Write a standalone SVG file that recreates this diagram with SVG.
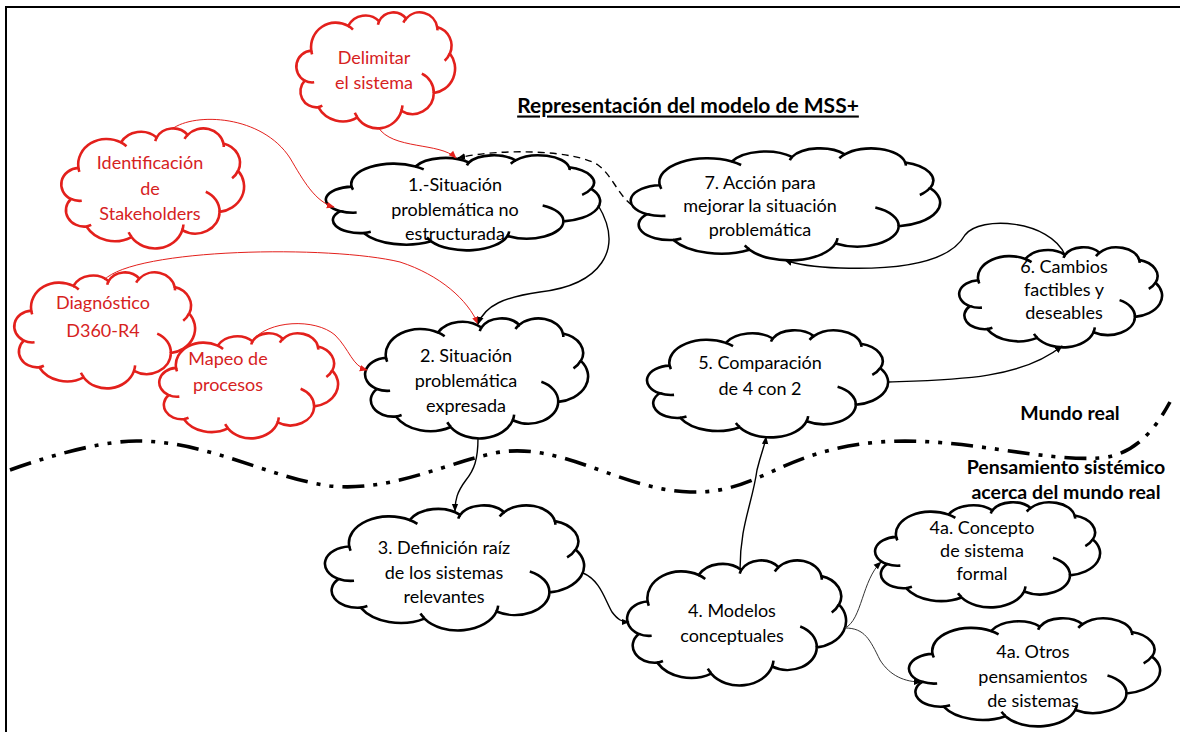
<svg xmlns="http://www.w3.org/2000/svg" width="1180" height="732" viewBox="0 0 1180 732">
<style>
.bg{fill:#fff}
.frame{fill:none;stroke:#000;stroke-width:2}
.cb{fill:#fff;stroke:#000;stroke-width:2.6}
.cr{fill:#fff;stroke:#e3201c;stroke-width:2.6}
text{font-family:Lato,"Open Sans","Liberation Sans",sans-serif;font-size:18px;text-anchor:middle;dominant-baseline:central}
.tb{fill:#000}
.tr{fill:#d6221e}
.bold{font-weight:bold;fill:#000;font-size:19.5px}
.ck{fill:none;stroke:#000;stroke-width:1.4}
.cred{fill:none;stroke:#e3201c;stroke-width:1}
.cthin{fill:none;stroke:#333;stroke-width:1}
.dash{stroke-dasharray:7 5}
.wave{fill:none;stroke:#000;stroke-width:3.6;stroke-dasharray:22 9 4 9 4 9}
</style>
<defs>
<g id="cloud">
<path vector-effect="non-scaling-stroke" d="M9.03,33.26 A15.63,21.27 0 0 1 32.42,12.04 A12.34,16.82 0 0 1 51.98,7.94 A10.10,13.76 0 0 1 69.06,5.73 A11.24,15.27 0 0 1 88.70,12.89 A12.34,16.84 0 0 1 96.80,35.77 A15.68,21.34 0 0 1 86.59,69.90 A13.39,18.21 0 0 1 66.10,85.20 A15.63,21.33 0 0 1 38.15,90.88 A17.87,24.41 0 0 1 13.44,82.09 A10.09,13.70 0 0 1 4.89,59.12 A10.06,13.76 0 0 1 9.03,33.26 Z"/>
<path vector-effect="non-scaling-stroke" style="fill:none" d="M10.86,60.60 A10.06,13.76 0 0 1 4.89,59.12 M16.04,80.78 A10.09,13.70 0 0 1 13.44,82.09 M38.14,90.49 A15.63,21.33 0 0 1 36.60,86.85 M66.73,80.44 A15.63,21.33 0 0 1 66.10,85.20 M79.00,53.13 A13.39,18.21 0 0 1 86.59,69.90 M96.75,35.54 A12.34,16.84 0 0 1 93.45,41.96 M88.71,12.56 A11.24,15.27 0 0 1 88.88,15.82 M67.31,9.15 A11.24,15.27 0 0 1 69.06,5.73 M51.25,10.93 A10.10,13.76 0 0 1 51.98,7.94 M32.41,12.02 A15.63,21.27 0 0 1 35.43,15.16 M9.55,36.55 A15.63,21.27 0 0 1 9.03,33.26"/>
</g>
<marker id="ak" viewBox="0 0 10 10" refX="9" refY="5" markerWidth="8" markerHeight="8" markerUnits="userSpaceOnUse" orient="auto"><path d="M0,1 L10,5 L0,9 z" fill="#000"/></marker>
<marker id="ar" viewBox="0 0 10 10" refX="9" refY="5" markerWidth="8" markerHeight="8" markerUnits="userSpaceOnUse" orient="auto"><path d="M0,1 L10,5 L0,9 z" fill="#e3201c"/></marker>
</defs>
<rect class="bg" width="1180" height="732"/>
<path class="frame" d="M6,732 L6,7 L1180,7"/>
<text class="bold" x="688" y="104" style="font-size:21px;text-decoration:underline">Representación del modelo de MSS+</text>
<path class="wave" d="M10,470 C60,452 110,440 140,441 C210,442 270,478 330,486 C390,492 440,465 495,453 C560,440 620,490 690,492 C760,494 780,450 880,442 C960,436 1040,462 1100,458 C1140,455 1160,420 1170,402"/>
<text class="bold" x="1070" y="412">Mundo real</text>
<text class="bold" x="1066" y="466">Pensamiento sistémico</text>
<text class="bold" x="1066" y="491">acerca del mundo real</text>
<g id="delimitar"><use href="#cloud" class="cr" transform="translate(297,12) scale(1.58,1.16)"/><text class="tr" x="374" y="57">Delimitar</text><text class="tr" x="374" y="82">el sistema</text></g>
<g id="stakeholders"><use href="#cloud" class="cr" transform="translate(62,128) scale(1.82,1.2)"/><text class="tr" x="150" y="162">Identificación</text><text class="tr" x="150" y="188">de</text><text class="tr" x="150" y="213">Stakeholders</text></g>
<g id="diagnostico"><use href="#cloud" class="cr" transform="translate(15,272) scale(1.8,1.16)"/><text class="tr" x="103" y="302">Diagnóstico</text><text class="tr" x="103" y="330">D360-R4</text></g>
<g id="mapeo"><use href="#cloud" class="cr" transform="translate(160,333) scale(1.78,1.05)"/><text class="tr" x="228" y="358">Mapeo de</text><text class="tr" x="228" y="384">procesos</text></g>
<g id="n1"><use href="#cloud" class="cb" transform="translate(327,155) scale(2.73,0.95)"/><text class="tb" x="455" y="184">1.-Situación</text><text class="tb" x="455" y="209">problemática no</text><text class="tb" x="455" y="233">estructurada</text></g>
<g id="n2"><use href="#cloud" class="cb" transform="translate(366,318) scale(2.22,1.2)"/><text class="tb" x="466" y="355">2. Situación</text><text class="tb" x="466" y="380">problemática</text><text class="tb" x="466" y="405">expresada</text></g>
<g id="n3"><use href="#cloud" class="cb" transform="translate(326,505) scale(2.58,1.25)"/><text class="tb" x="444" y="547">3. Definición raíz</text><text class="tb" x="444" y="572">de los sistemas</text><text class="tb" x="444" y="596">relevantes</text></g>
<g id="n4"><use href="#cloud" class="cb" transform="translate(628,560) scale(2.18,1.25)"/><text class="tb" x="732" y="610">4. Modelos</text><text class="tb" x="732" y="635">conceptuales</text></g>
<g id="n5"><use href="#cloud" class="cb" transform="translate(648,330) scale(2.4,1.07)"/><text class="tb" x="760" y="362">5. Comparación</text><text class="tb" x="760" y="388">de 4 con 2</text></g>
<g id="n6"><use href="#cloud" class="cb" transform="translate(960,247) scale(2.02,1.0)"/><text class="tb" x="1064" y="266">6. Cambios</text><text class="tb" x="1064" y="289">factibles y</text><text class="tb" x="1064" y="312">deseables</text></g>
<g id="n7"><use href="#cloud" class="cb" transform="translate(632,148) scale(3.08,1.12)"/><text class="tb" x="760" y="182">7. Acción para</text><text class="tb" x="760" y="205">mejorar la situación</text><text class="tb" x="760" y="229">problemática</text></g>
<g id="n4a1"><use href="#cloud" class="cb" transform="translate(876,502) scale(2.24,1.05)"/><text class="tb" x="982" y="527">4a. Concepto</text><text class="tb" x="982" y="550">de sistema</text><text class="tb" x="982" y="573">formal</text></g>
<g id="n4a2"><use href="#cloud" class="cb" transform="translate(910,618) scale(2.5,1.08)"/><text class="tb" x="1033" y="651">4a. Otros</text><text class="tb" x="1033" y="676">pensamientos</text><text class="tb" x="1033" y="700">de sistemas</text></g>
<g id="connectors">
<path class="cred" marker-end="url(#ar)" d="M378,127 C392,150 440,142 456,158"/>
<path class="cred" marker-end="url(#ar)" d="M172,129 C195,112 262,115 290,158 C303,180 315,202 334,207"/>
<path class="cred" marker-end="url(#ar)" d="M104,280 C135,248 330,245 400,262 C440,275 468,300 478,324"/>
<path class="cred" marker-end="url(#ar)" d="M252,341 C268,320 315,318 335,335 C350,350 352,366 367,370"/>
<path class="ck" marker-end="url(#ak)" d="M598,205 C625,250 600,285 540,292 C505,297 485,305 478,324"/>
<path class="ck" marker-end="url(#ak)" d="M478,438 C478,460 474,470 466,480 C457,492 455,500 455,511"/>
<path class="ck" marker-end="url(#ak)" d="M583,573 C600,580 605,600 612,612 C618,620 622,622 629,622"/>
<path class="ck" marker-end="url(#ak)" d="M740,570 C740,525 752,505 757,470 C762,450 765,445 766,437"/>
<path class="ck" marker-end="url(#ak)" d="M888,382 C950,380 1020,380 1062,346"/>
<path class="ck" marker-end="url(#ak)" d="M1065,255 C1050,220 980,215 965,235 C950,262 900,270 840,268 C810,267 795,264 785,260"/>
<path class="ck dash" marker-end="url(#ak)" d="M632,205 C618,195 612,175 598,165 C575,150 500,148 458,158"/>
<path class="cthin" marker-end="url(#ak)" d="M845,628 C862,620 862,580 881,562"/>
<path class="cthin" marker-end="url(#ak)" d="M845,628 C865,628 870,640 880,660 C890,676 905,682 921,682"/>
</g>
</svg>
